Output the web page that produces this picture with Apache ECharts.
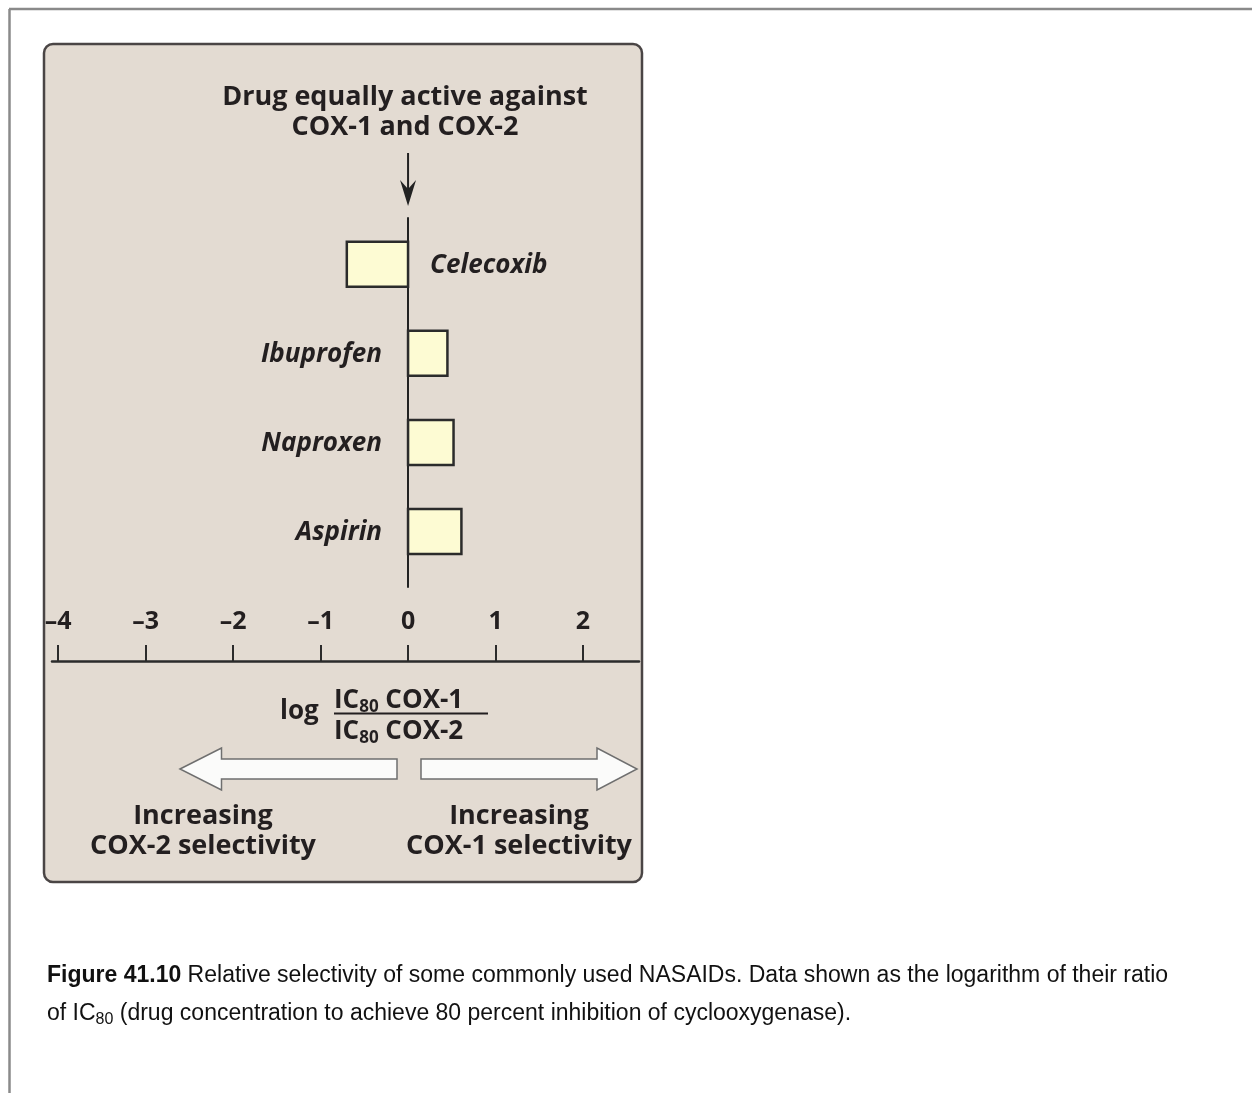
<!DOCTYPE html>
<html>
<head>
<meta charset="utf-8">
<script src="https://cdn.jsdelivr.net/npm/echarts@6/dist/echarts.min.js"></script>
<style>html,body{margin:0;padding:0;background:#fff}#c{width:1252px;height:1093px}</style>
</head>
<body>
<div id="c"></div>
<script>
// ---------------- data ----------------
const drugs = ['Celecoxib', 'Ibuprofen', 'Naproxen', 'Aspirin'];
const logRatio = [-0.70, 0.45, 0.52, 0.61];
const tickValues = [-4, -3, -2, -1, 0, 1, 2];
const headerLines = ['Drug equally active against', 'COX-1 and COX-2'];
const leftNote = ['Increasing', 'COX-2 selectivity'];
const rightNote = ['Increasing', 'COX-1 selectivity'];
const captionBold = 'Figure 41.10';
const captionLine1 = ' Relative selectivity of some commonly used NASAIDs. Data shown as the logarithm of their ratio';
const captionLine2 = ['of IC', '80', ' (drug concentration to achieve 80 percent inhibition of cyclooxygenase).'];

// ---------------- style / layout ----------------
const FONT = '"Open Sans", "DejaVu Sans", sans-serif';
const CAP_FONT = '"Liberation Sans", Arial, sans-serif';
const INK = '#231f20';
const X_MIN = -4.07, X_MAX = 2.64;
const Y_MIN = -0.518, Y_MAX = 3.623;
const BAR_HALF = 0.2525;

function fmtTick(v) { return v < 0 ? '\u2013' + Math.abs(v) : String(v); }

function renderItem(params, api) {
  const i = api.value(0), v = api.value(1);
  const name = drugs[i];
  const p0 = api.coord([0, i - BAR_HALF]);
  const p1 = api.coord([v, i + BAR_HALF]);
  const c = api.coord([0, i]);
  const x = Math.min(p0[0], p1[0]), y = Math.min(p0[1], p1[1]);
  return {
    type: 'group',
    children: [
      { type: 'rect', shape: { x: x, y: y, width: Math.abs(p1[0] - p0[0]), height: Math.abs(p1[1] - p0[1]) },
        style: { fill: '#fdfbd3', stroke: '#2b2b2b', lineWidth: 2.5 } },
      { type: 'text', x: c[0] + (v < 0 ? 22 : -26), y: c[1] + 1,
        style: { text: name, align: v < 0 ? 'left' : 'right', verticalAlign: 'middle',
                 fontFamily: FONT, fontWeight: 700, fontStyle: 'italic', fontSize: 26, fill: INK } }
    ]
  };
}

const chart = echarts.init(document.getElementById('c'), null, { renderer: 'canvas' });

const option = {
  backgroundColor: '#ffffff',
  animation: false,
  title: {
    text: headerLines.join('\n'), left: 405, top: 82, textAlign: 'center', padding: 0,
    textStyle: { fontFamily: FONT, fontWeight: 700, fontSize: 27, lineHeight: 30, color: INK }
  },
  grid: [
    { left: 52, width: 587, top: 218, height: 369 },
    { left: 52, width: 587, top: 600, height: 61 }
  ],
  xAxis: [
    { gridIndex: 0, type: 'value', min: X_MIN, max: X_MAX, show: false },
    { gridIndex: 1, type: 'value', min: X_MIN, max: X_MAX,
      axisLine: { show: true, onZero: false, lineStyle: { color: '#2b2b2b', width: 2.5 } },
      axisTick: { show: true, inside: true, length: 16, customValues: tickValues, lineStyle: { color: '#2b2b2b', width: 2 } },
      axisLabel: { show: true, inside: true, margin: 27, customValues: tickValues, formatter: fmtTick,
                   fontFamily: FONT, fontWeight: 700, fontSize: 25, color: INK },
      splitLine: { show: false } }
  ],
  yAxis: [
    { gridIndex: 0, type: 'value', inverse: true, min: Y_MIN, max: Y_MAX,
      axisLine: { show: true, onZero: true, lineStyle: { color: '#222', width: 2 } },
      axisTick: { show: false }, axisLabel: { show: false }, splitLine: { show: false } },
    { gridIndex: 1, type: 'value', min: 0, max: 1, show: false }
  ],
  series: [{
    type: 'custom', xAxisIndex: 0, yAxisIndex: 0, clip: false,
    data: drugs.map((d, i) => [i, logRatio[i]]),
    encode: { x: 1, y: 0 },
    renderItem: renderItem
  }]
};
chart.setOption(option);

const zeroX = chart.convertToPixel({ xAxisIndex: 0 }, 0);
const arrowStroke = '#6f6f6f';
chart.setOption({
  graphic: [
    // page frame
    { type: 'line', z: -20, shape: { x1: 9, y1: 9, x2: 1252, y2: 9 }, style: { stroke: '#8a8a8a', lineWidth: 2.5 } },
    { type: 'line', z: -20, shape: { x1: 9.5, y1: 9, x2: 9.5, y2: 1093 }, style: { stroke: '#8a8a8a', lineWidth: 2.5 } },
    // panel
    { type: 'rect', z: -10, shape: { x: 44, y: 44, width: 598, height: 838, r: 9 },
      style: { fill: '#e3dbd2', stroke: '#4a4545', lineWidth: 2.5 } },
    // down arrow
    { type: 'line', z: 5, shape: { x1: zeroX, y1: 153, x2: zeroX, y2: 196 }, style: { stroke: '#222', lineWidth: 2 } },
    { type: 'polygon', z: 5, shape: { points: [[zeroX, 206], [zeroX - 8, 180], [zeroX, 189], [zeroX + 8, 180]] },
      style: { fill: '#222' } },
    // fraction
    { type: 'text', z: 5, x: 280, y: 712, style: { text: 'log', align: 'left', verticalAlign: 'middle',
      fontFamily: FONT, fontWeight: 700, fontSize: 26, fill: INK } },
    { type: 'text', z: 5, x: 334, y: 701, style: { text: '{b|IC}{s|80}{b| COX-1}', align: 'left', verticalAlign: 'middle',
      rich: { b: { fontFamily: FONT, fontWeight: 700, fontSize: 26, lineHeight: 30, fill: INK, color: INK },
              s: { fontFamily: FONT, fontWeight: 700, fontSize: 17, lineHeight: 24, verticalAlign: 'bottom', fill: INK, color: INK } } } },
    { type: 'line', z: 5, shape: { x1: 334, y1: 713.5, x2: 488, y2: 713.5 }, style: { stroke: INK, lineWidth: 2 } },
    { type: 'text', z: 5, x: 334, y: 732, style: { text: '{b|IC}{s|80}{b| COX-2}', align: 'left', verticalAlign: 'middle',
      rich: { b: { fontFamily: FONT, fontWeight: 700, fontSize: 26, lineHeight: 30, fill: INK, color: INK },
              s: { fontFamily: FONT, fontWeight: 700, fontSize: 17, lineHeight: 24, verticalAlign: 'bottom', fill: INK, color: INK } } } },
    // double arrow
    { type: 'polygon', z: 5, shape: { points: [[180, 769], [221.5, 748], [221.5, 759], [397, 759], [397, 779], [221.5, 779], [221.5, 790]] },
      style: { fill: '#fbfbfa', stroke: arrowStroke, lineWidth: 1.5 } },
    { type: 'polygon', z: 5, shape: { points: [[421, 759], [597, 759], [597, 748], [637, 769], [597, 790], [597, 779], [421, 779]] },
      style: { fill: '#fbfbfa', stroke: arrowStroke, lineWidth: 1.5 } },
    // notes
    { type: 'text', z: 5, x: 203, y: 831, style: { text: leftNote.join('\n'), align: 'center', verticalAlign: 'middle',
      fontFamily: FONT, fontWeight: 700, fontSize: 27, lineHeight: 30, fill: INK } },
    { type: 'text', z: 5, x: 519, y: 831, style: { text: rightNote.join('\n'), align: 'center', verticalAlign: 'middle',
      fontFamily: FONT, fontWeight: 700, fontSize: 27, lineHeight: 30, fill: INK } },
    // caption
    { type: 'text', z: 5, x: 47, y: 976, style: { text: '{b|' + captionBold + '}{r|' + captionLine1 + '}', align: 'left', verticalAlign: 'middle',
      rich: { b: { fontFamily: CAP_FONT, fontWeight: 700, fontSize: 23, fill: '#111' },
              r: { fontFamily: CAP_FONT, fontSize: 23, fill: '#111' } } } },
    { type: 'text', z: 5, x: 47, y: 1014, style: { text: '{r|' + captionLine2[0] + '}{s|' + captionLine2[1] + '}{r|' + captionLine2[2] + '}',
      align: 'left', verticalAlign: 'middle',
      rich: { r: { fontFamily: CAP_FONT, fontSize: 23, lineHeight: 28, fill: '#111' },
              s: { fontFamily: CAP_FONT, fontSize: 16, lineHeight: 13, verticalAlign: 'bottom', fill: '#111' } } } }
  ]
});
</script>
</body>
</html>
